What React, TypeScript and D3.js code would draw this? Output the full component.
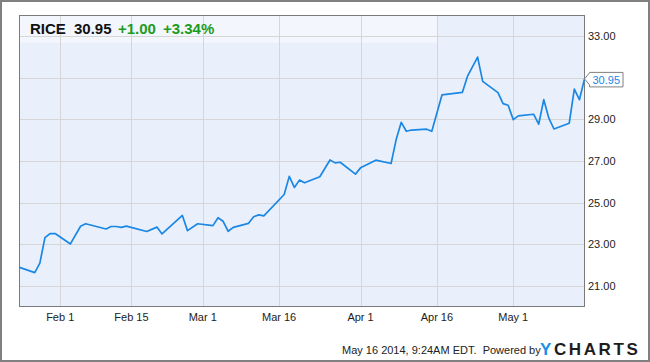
import React from "react";
import * as d3 from "d3";

const dates: string[] = [
  "2014-01-24", "2014-01-27", "2014-01-28", "2014-01-29", "2014-01-30", "2014-01-31",
  "2014-02-03", "2014-02-05", "2014-02-06", "2014-02-10", "2014-02-11", "2014-02-12",
  "2014-02-13", "2014-02-14", "2014-02-18", "2014-02-20", "2014-02-21", "2014-02-25",
  "2014-02-26", "2014-02-28", "2014-03-03", "2014-03-04", "2014-03-05", "2014-03-06",
  "2014-03-07", "2014-03-10", "2014-03-11", "2014-03-12", "2014-03-13", "2014-03-17",
  "2014-03-18", "2014-03-19", "2014-03-20", "2014-03-21", "2014-03-24", "2014-03-26",
  "2014-03-27", "2014-03-28", "2014-03-31", "2014-04-01", "2014-04-04", "2014-04-07",
  "2014-04-08", "2014-04-09", "2014-04-10", "2014-04-11", "2014-04-14", "2014-04-15",
  "2014-04-17", "2014-04-21", "2014-04-22", "2014-04-24", "2014-04-25", "2014-04-28",
  "2014-04-29", "2014-04-30", "2014-05-01", "2014-05-02", "2014-05-05", "2014-05-06",
  "2014-05-07", "2014-05-08", "2014-05-09", "2014-05-12", "2014-05-13", "2014-05-14",
  "2014-05-15",
];

const prices: number[] = [
  21.88, 21.63, 22.09, 23.31, 23.51, 23.51,
  23.01, 23.86, 23.98, 23.73, 23.85, 23.85,
  23.81, 23.87, 23.61, 23.82, 23.49, 24.38,
  23.65, 23.98, 23.89, 24.27, 24.10, 23.62,
  23.81, 24.0, 24.32, 24.41, 24.36, 25.39,
  26.26, 25.73, 26.08, 25.95, 26.24, 27.05,
  26.91, 26.94, 26.37, 26.67, 27.04, 26.88,
  28.03, 28.86, 28.43, 28.49, 28.53, 28.43,
  30.18, 30.30, 31.07, 32.0, 30.83, 30.29,
  29.76, 29.68, 28.99, 29.17, 29.25, 28.77,
  29.95, 29.06, 28.54, 28.82, 30.46, 29.95,
  30.95,
];

const yTicks: number[] = [21, 23, 25, 27, 29, 31, 33];
const xTickDates: string[] = ["2014-02-01", "2014-02-15", "2014-03-01", "2014-03-16", "2014-04-01", "2014-04-16", "2014-05-01"];
const xTickLabels: string[] = ["Feb 1", "Feb 15", "Mar 1", "Mar 16", "Apr 1", "Apr 16", "May 1"];

const ticker = "RICE";
const lastPrice = "30.95";
const change = "+1.00";
const changePct = "+3.34%";
const footer = "May 16 2014, 9:24AM EDT.  Powered by";

const W = 650;
const H = 362;
const left = 19.5;
const right = 584.5;
const top = 15.5;
const bottom = 306.5;

const parse = d3.timeParse("%Y-%m-%d");

export default function App() {
  const data = dates.map((d, i) => ({ date: parse(d) as Date, value: prices[i] }));
  const x = d3
    .scaleTime()
    .domain([parse("2014-01-24") as Date, parse("2014-05-15") as Date])
    .range([left, right]);
  const y = d3.scaleLinear().domain([20, 34]).range([bottom, top]);
  const line = d3
    .line<{ date: Date; value: number }>()
    .x((d) => x(d.date))
    .y((d) => y(d.value));

  const last = data[data.length - 1];
  const ly = y(last.value);
  const lx = x(last.date);
  const font = "'Liberation Sans', Arial, sans-serif";

  return (
    <svg
      width={W}
      height={H}
      style={{ position: "absolute", left: 0, top: 0 }}
      fontFamily={font}
    >
      <rect x={0} y={0} width={W} height={H} fill="#ffffff" />
      <rect x={1} y={1} width={W - 2} height={H - 2} fill="none" stroke="#808080" strokeWidth={2} />
      {/* plot background */}
      <rect x={left} y={top} width={right - left} height={bottom - top} fill="#e9f0fb" />
      {/* header band */}
      <rect x={left} y={top} width={x(parse("2014-04-16") as Date) - left} height={27} fill="#f3f6fd" />
      {/* gridlines */}
      {yTicks.map((t) => (
        <line key={"gy" + t} x1={left} x2={right} y1={Math.round(y(t)) + 0.5} y2={Math.round(y(t)) + 0.5} stroke="#d6d6d6" strokeWidth={1} />
      ))}
      {xTickDates.map((d) => {
        const xx = Math.round(x(parse(d) as Date)) + 0.5;
        return <line key={"gx" + d} x1={xx} x2={xx} y1={top} y2={bottom} stroke="#d6d6d6" strokeWidth={1} />;
      })}
      {/* border */}
      <rect x={left} y={top} width={right - left} height={bottom - top} fill="none" stroke="#7a7a7a" strokeWidth={1} />
      {/* line */}
      <path d={line(data) || ""} fill="none" stroke="#1a87e5" strokeWidth={1.7} strokeLinejoin="round" />
      {/* y labels */}
      {yTicks
        .filter((t) => Math.abs(y(t) - ly) > 12)
        .map((t) => (
          <text key={"yl" + t} x={588} y={y(t) + 4} fontSize={11} fill="#222">
            {d3.format(".2f")(t)}
          </text>
        ))}
      {/* x labels */}
      {xTickDates.map((d, i) => (
        <text key={"xl" + d} x={x(parse(d) as Date)} y={321} fontSize={11} fill="#222" textAnchor="middle">
          {xTickLabels[i]}
        </text>
      ))}
      {/* last value label */}
      <path
        d={`M${lx},${ly} L${lx + 5},${ly - 6} L${lx + 5},${ly - 6.5} L${lx + 38.5},${ly - 6.5} L${lx + 38.5},${ly + 8} L${lx + 5},${ly + 8} L${lx + 5},${ly + 6} Z`}
        fill="#ffffff"
        stroke="#808080"
        strokeWidth={1}
      />
      <text x={lx + 8} y={ly + 5} fontSize={11} fill="#1a87e5">
        {lastPrice}
      </text>
      {/* header text */}
      <text x={30} y={33.5} fontSize={15} fontWeight="bold" fill="#111">
        {ticker}
      </text>
      <text x={74} y={33.5} fontSize={15} fontWeight="bold" fill="#111">
        {lastPrice}
      </text>
      <text x={118} y={33.5} fontSize={15} fontWeight="bold" fill="#1c9c1c">
        {change}
      </text>
      <text x={163} y={33.5} fontSize={15} fontWeight="bold" fill="#1c9c1c">
        {changePct}
      </text>
      {/* footer */}
      <text x={342} y={354} fontSize={11} fill="#222" style={{ whiteSpace: "pre" }}>
        {footer}
      </text>
      <text x={540} y={354.5} fontSize={17} fontWeight="bold" fill="#1d1d1d" letterSpacing={2.6}>
        <tspan fill="#1a8fe8">Y</tspan>
        <tspan>CHARTS</tspan>
      </text>
    </svg>
  );
}
